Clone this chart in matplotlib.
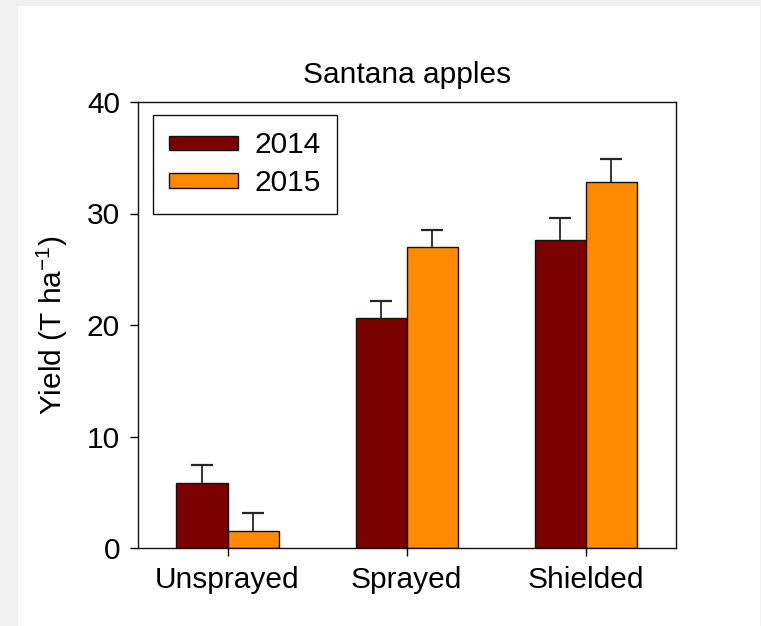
import matplotlib
matplotlib.use("Agg")
import matplotlib.pyplot as plt
import numpy as np
from matplotlib.patches import Rectangle

plt.rcParams['font.family'] = ['Liberation Sans', 'DejaVu Sans']
plt.rcParams['mathtext.fontset'] = 'custom'
plt.rcParams['mathtext.rm'] = 'Liberation Sans'
plt.rcParams['mathtext.it'] = 'Liberation Sans'
plt.rcParams['mathtext.bf'] = 'Liberation Sans:bold'

categories = ["Unsprayed", "Sprayed", "Shielded"]
years = ["2014", "2015"]
yield_2014 = [5.8, 20.6, 27.6]
yield_2015 = [1.5, 27.0, 32.8]
err_2014 = [1.65, 1.55, 2.0]
err_2015 = [1.65, 1.5, 2.05]
colors = ["#7b0000", "#ff8a00"]

FS = 21.5

fig = plt.figure(figsize=(7.61, 6.26), dpi=100, facecolor="#f0f0f0")
# white panel behind the plot
fig.patches.append(Rectangle((18 / 761, 0), (760 - 18) / 761, (626 - 6) / 626,
                             transform=fig.transFigure, facecolor="white",
                             edgecolor="none", zorder=-10))

ax = fig.add_axes([138 / 761, 1 - 548 / 626, (676 - 138) / 761, (548 - 102) / 626])
ax.set_facecolor("white")

x = np.arange(len(categories))
w = 0.285
for vals, errs, off, col, lab in [(yield_2014, err_2014, -w / 2, colors[0], years[0]),
                                   (yield_2015, err_2015, w / 2, colors[1], years[1])]:
    ax.bar(x + off, vals, w, color=col, edgecolor="#111111", linewidth=1.0, label=lab, zorder=2)
    _, caps, _ = ax.errorbar(x + off, vals, yerr=[np.zeros(len(vals)), errs], fmt="none",
                             ecolor="#262626", elinewidth=1.3, capsize=8, capthick=1.6, zorder=3)
    # upper caps only
    caps[0].set_visible(False)

ax.set_xlim(-0.5, 2.505)
ax.set_ylim(0, 40)
ax.set_yticks([0, 10, 20, 30, 40])
ax.set_xticks(x)
ax.set_xticklabels(categories)
ax.tick_params(axis="both", direction="out", length=6, width=1, labelsize=FS, pad=7)
for s in ax.spines.values():
    s.set_linewidth(1.0)
    s.set_color("#111111")

ax.set_title("Santana apples", fontsize=FS, pad=14)
ax.set_ylabel("Yield (T ha$^{\\mathrm{-1}}$)", fontsize=FS, labelpad=12)

leg = ax.legend(loc="upper left", bbox_to_anchor=(0.028, 0.971), fontsize=FS,
                handlelength=2.3, handleheight=0.35, handletextpad=0.55,
                borderpad=0.55, labelspacing=0.33, fancybox=False, framealpha=1,
                edgecolor="#111111", borderaxespad=0)
leg.get_frame().set_linewidth(1.0)

fig.savefig("out.png", dpi=100, facecolor=fig.get_facecolor())
